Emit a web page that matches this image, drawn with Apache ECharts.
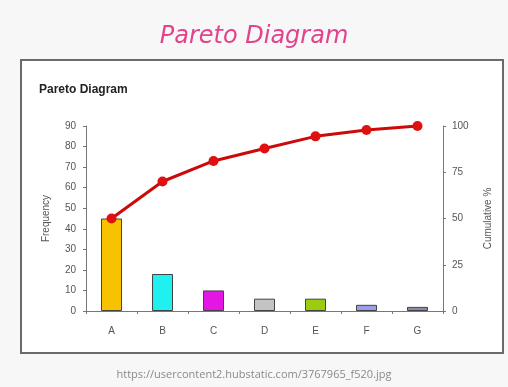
<!DOCTYPE html>
<html>
<head>
<meta charset="utf-8">
<script src="https://cdn.jsdelivr.net/npm/echarts@6/dist/echarts.min.js"></script>
<style>
  html, body { margin: 0; padding: 0; background: #f7f7f7; }
  #chart { width: 508px; height: 387px; }
</style>
</head>
<body>
<div id="chart"></div>
<script>
// Defect categories and their counts
const categories = ['A', 'B', 'C', 'D', 'E', 'F', 'G'];
const frequency = [45, 18, 10, 6, 6, 3, 2];
// Running share of the total, in percent
const cumulativePct = [50, 70, 81.1, 87.8, 94.4, 97.8, 100];
const barColors = ['#f7c200', '#1ff0f0', '#e316e3', '#c4c4c4', '#9ccc10', '#9d9dea', '#8a8aa8'];

const chart = echarts.init(document.getElementById('chart'));
const labelFont = { color: '#555', fontSize: 10, fontFamily: 'Liberation Sans, Arial, sans-serif' };

chart.setOption({
  backgroundColor: '#f7f7f7',
  animation: false,
  graphic: [
    {
      type: 'rect',
      z: -10,
      shape: { x: 21, y: 60, width: 482, height: 293 },
      style: { fill: '#ffffff', stroke: '#6a6a6a', lineWidth: 2 }
    }
  ],
  title: [
    {
      text: 'Pareto Diagram',
      left: 'center',
      top: 20,
      textStyle: { color: '#e2438b', fontSize: 24, fontStyle: 'italic', fontWeight: 'normal', fontFamily: 'DejaVu Sans, sans-serif' }
    },
    {
      text: 'Pareto Diagram',
      left: 34,
      top: 79,
      textStyle: { color: '#222', fontSize: 12, fontWeight: 'bold', fontFamily: 'Liberation Sans, Arial, sans-serif' }
    },
    {
      text: 'https://usercontent2.hubstatic.com/3767965_f520.jpg',
      left: 'center',
      top: 364,
      textStyle: { color: '#8a8a8a', fontSize: 11, fontWeight: 'normal', fontFamily: 'Open Sans, sans-serif' }
    }
  ],
  grid: { left: 86, right: 65, top: 126, bottom: 76 },
  xAxis: {
    type: 'category',
    data: categories,
    axisLine: { lineStyle: { color: '#777', width: 1 } },
    axisTick: { show: true, length: 3, lineStyle: { color: '#777' } },
    axisLabel: Object.assign({ margin: 15 }, labelFont)
  },
  yAxis: [
    {
      type: 'value',
      min: 0, max: 90, interval: 10,
      name: 'Frequency',
      nameLocation: 'middle',
      nameGap: 35,
      nameRotate: 90,
      nameTextStyle: labelFont,
      splitLine: { show: false },
      axisLine: { show: true, lineStyle: { color: '#777' } },
      axisTick: { show: true, length: 3, lineStyle: { color: '#777' } },
      axisLabel: Object.assign({ margin: 10 }, labelFont)
    },
    {
      type: 'value',
      min: 0, max: 100, interval: 25,
      name: 'Cumulative %',
      nameLocation: 'middle',
      nameGap: 40,
      nameRotate: 90,
      nameTextStyle: labelFont,
      splitLine: { show: false },
      axisLine: { show: true, lineStyle: { color: '#777' } },
      axisTick: { show: true, length: 3, lineStyle: { color: '#777' } },
      axisLabel: Object.assign({ margin: 9 }, labelFont)
    }
  ],
  series: [
    {
      type: 'bar',
      barWidth: 21,
      data: frequency.map((v, i) => ({
        value: v,
        itemStyle: { color: barColors[i], borderColor: '#444', borderWidth: 1 }
      }))
    },
    {
      type: 'line',
      yAxisIndex: 1,
      data: cumulativePct,
      symbol: 'circle',
      symbolSize: 10,
      lineStyle: { color: '#cc0a0a', width: 3 },
      itemStyle: { color: '#e01010' }
    }
  ]
});
</script>
</body>
</html>
